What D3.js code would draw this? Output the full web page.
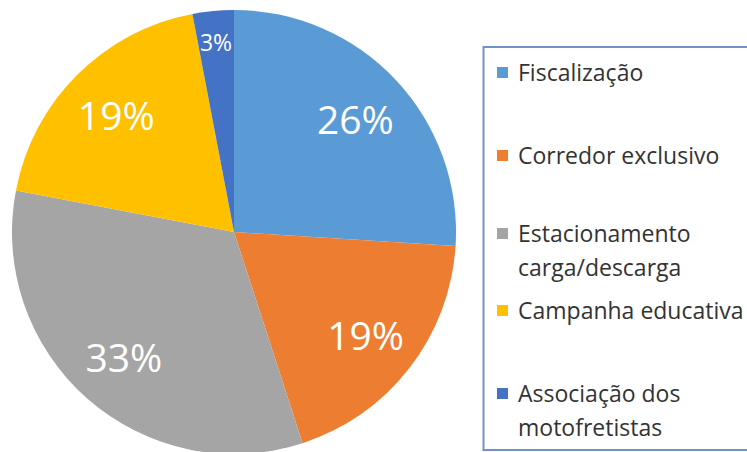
<!DOCTYPE html>
<html>
<head>
<meta charset="utf-8">
<script src="https://cdn.jsdelivr.net/npm/d3@7"></script>
<style>
  body { margin: 0; background: #fff; }
  svg { display: block; font-family: "Open Sans", "Noto Sans", sans-serif; }
</style>
</head>
<body>
<svg id="chart"></svg>
<script>
const categories = ['Fiscalização', 'Corredor exclusivo', 'Estacionamento carga/descarga', 'Campanha educativa', 'Associação dos motofretistas'];
const values = [26, 19, 33, 19, 3];
const legendLines = [['Fiscalização'], ['Corredor exclusivo'], ['Estacionamento', 'carga/descarga'], ['Campanha educativa'], ['Associação dos', 'motofretistas']];
const colors = ['#5B9BD5', '#ED7D31', '#A5A5A5', '#FFC000', '#4472C4'];

const width = 747, height = 452;
const cx = 234, cy = 232, radius = 222;

const svg = d3.select('#chart')
    .attr('width', width)
    .attr('height', height);

const data = categories.map((c, i) => ({name: c, value: values[i], color: colors[i]}));

const pie = d3.pie().sort(null).value(d => d.value);
const arc = d3.arc().innerRadius(0).outerRadius(radius);
const labelArc = d3.arc().innerRadius(radius * 0.75).outerRadius(radius * 0.75);
const smallArc = d3.arc().innerRadius(radius * 0.86).outerRadius(radius * 0.86);

const g = svg.append('g').attr('transform', 'translate(' + cx + ',' + cy + ')');

const arcs = pie(data);

g.selectAll('path')
    .data(arcs)
    .enter()
    .append('path')
    .attr('d', arc)
    .attr('fill', d => d.data.color);

// percent labels; the small slice sits nearer the rim
g.selectAll('text')
    .data(arcs)
    .enter()
    .append('text')
    .attr('transform', d => 'translate(' + (d.data.value < 5 ? smallArc : labelArc).centroid(d) + ')')
    .attr('text-anchor', 'middle')
    .attr('dominant-baseline', 'central')
    .attr('fill', '#fff')
    .attr('font-size', d => d.data.value < 5 ? 23 : 39)
    .text(d => d.data.value + '%');

// legend
const legend = svg.append('g');
legend.append('rect')
    .attr('x', 483.5)
    .attr('y', 47)
    .attr('width', 290)
    .attr('height', 403)
    .attr('fill', 'none')
    .attr('stroke', '#6F93C4')
    .attr('stroke-width', 2);

const rowY = [72, 155, 233, 310, 393];
const lineGap = 34;

const items = legend.selectAll('.item')
    .data(data)
    .enter()
    .append('g')
    .attr('class', 'item')
    .attr('transform', (d, i) => 'translate(497,' + rowY[i] + ')');

items.append('rect')
    .attr('x', 0)
    .attr('y', -5)
    .attr('width', 11)
    .attr('height', 11)
    .attr('fill', d => d.color);

items.each(function (d, i) {
    const t = d3.select(this).append('text')
        .attr('fill', '#333')
        .attr('font-size', 23)
        .attr('dominant-baseline', 'central');
    legendLines[i].forEach((line, j) => {
        t.append('tspan')
            .attr('x', 21)
            .attr('y', j * lineGap)
            .text(line);
    });
});
</script>
</body>
</html>
